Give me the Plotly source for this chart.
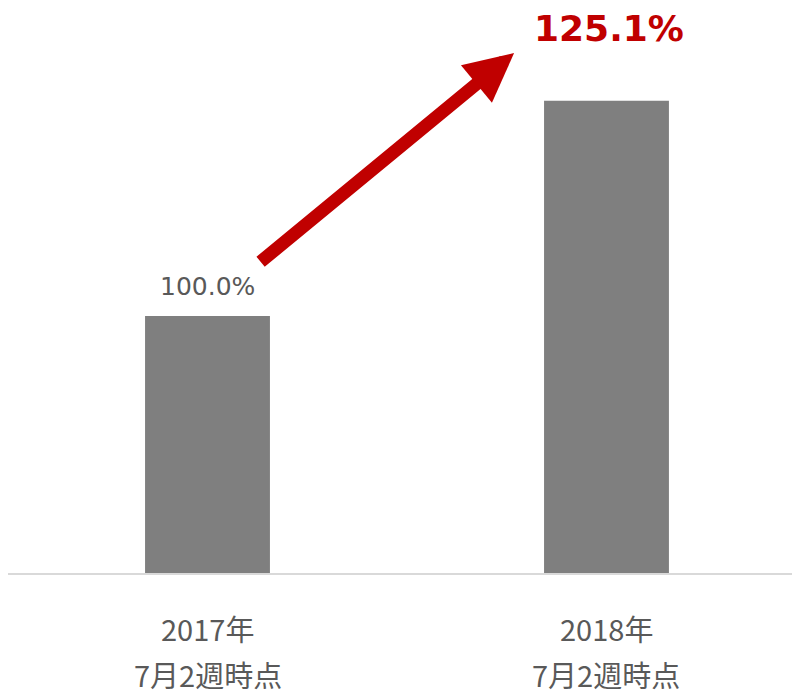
import plotly.graph_objects as go

categories = ["2017年<br>7月2週時点", "2018年<br>7月2週時点"]
years = ["2017年", "2018年"]
periods = ["7月2週時点", "7月2週時点"]
values = [100.0, 125.1]
labels = ["100.0%", ""]
growth_label = "125.1%"

x_idx = list(range(len(categories)))

fig = go.Figure()
fig.add_trace(go.Bar(
    x=x_idx, y=values, base=0,
    marker=dict(color="#7f7f7f", line=dict(width=0)),
    width=0.313,
    hoverinfo="skip",
))

# value labels
for i in x_idx:
    if labels[i]:
        fig.add_annotation(x=i, xref="x", y=values[i], yref="y", yanchor="bottom",
                           yshift=13, text=labels[i], showarrow=False,
                           font=dict(family="DejaVu Sans, Verdana, sans-serif", size=25, color="#595959"))

# category labels (two lines each)
for i in x_idx:
    fig.add_annotation(x=i, xref="x", y=0, yref="paper", yshift=-55,
                       text=years[i], showarrow=False, yanchor="middle",
                       font=dict(family="Noto Sans CJK JP", size=29, color="#595959"))
    fig.add_annotation(x=i, xref="x", y=0, yref="paper", yshift=-101,
                       text=periods[i], showarrow=False, yanchor="middle",
                       font=dict(family="Noto Sans CJK JP", size=29, color="#595959"))

# growth arrow
fig.add_annotation(x=0.639, y=0.9336, xref="paper", yref="paper",
                   ax=-255, ay=210, axref="pixel", ayref="pixel",
                   showarrow=True, arrowhead=2, arrowsize=0.75, arrowwidth=13,
                   arrowcolor="#c00000", standoff=0, text="")
fig.add_annotation(x=1, xref="x", xshift=3, y=0.978, yref="paper", yanchor="middle",
                   text="<b>" + growth_label + "</b>", showarrow=False,
                   font=dict(family="DejaVu Sans", size=36, color="#c00000"))

fig.update_layout(
    width=792, height=686,
    margin=dict(l=0, r=0, t=8, b=121),
    paper_bgcolor="white", plot_bgcolor="white",
    showlegend=False,
    xaxis=dict(range=[-0.5, 1.485], showticklabels=False, showgrid=False,
               zeroline=False, showline=True, linecolor="#d9d9d9", linewidth=1.5,
               ticks="", fixedrange=True),
    yaxis=dict(range=[70, 135], visible=False, showgrid=False, fixedrange=True),
    bargap=0.5,
)

fig.write_html("out.html")
